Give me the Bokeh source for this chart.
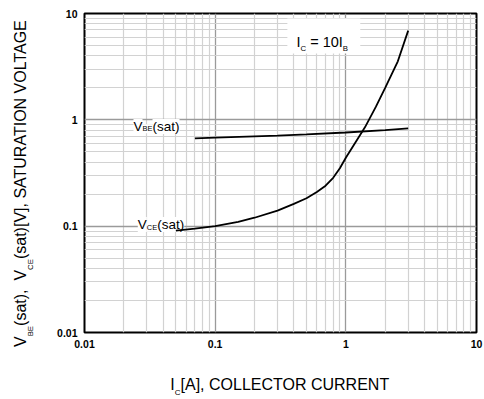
import math
from bokeh.plotting import figure
from bokeh.layouts import column, row
from bokeh.models import (Label, BoxAnnotation, FixedTicker,
                          CustomJSTickFormatter, Div)
from bokeh.embed import file_html
from bokeh.resources import INLINE

# ---- data ----
ic_vbe = [0.07, 0.1, 0.2, 0.3, 0.5, 1.0, 2.0, 3.0]
vbe_sat = [0.67, 0.68, 0.70, 0.71, 0.73, 0.76, 0.80, 0.83]

ic_vce = [0.05, 0.07, 0.1, 0.15, 0.2, 0.3, 0.4, 0.5, 0.6, 0.7, 0.8, 0.9,
          1.0, 1.2, 1.4, 1.7, 2.0, 2.5, 3.0]
vce_sat = [0.091, 0.095, 0.100, 0.110, 0.120, 0.140, 0.162, 0.183, 0.210,
           0.240, 0.285, 0.350, 0.440, 0.63, 0.85, 1.33, 2.0, 3.55, 6.9]

major_ticks = [0.01, 0.1, 1, 10]

FONT = "Liberation Sans"

p = figure(width=440, height=360, x_axis_type="log", y_axis_type="log",
           x_range=(0.01, 10), y_range=(0.01, 10),
           output_backend="svg", toolbar_location=None,
           min_border_left=40, min_border_right=8, min_border_top=13,
           min_border_bottom=28)
p.background_fill_color = "white"
p.border_fill_color = "white"
p.outline_line_color = "black"
p.outline_line_width = 2

minor = [m * d for d in major_ticks[:-1] for m in range(2, 10)]
for ax in (p.xaxis[0], p.yaxis[0]):
    ax.ticker = FixedTicker(ticks=major_ticks, minor_ticks=minor)
    ax.formatter = CustomJSTickFormatter(code="return tick.toString();")
    ax.axis_line_color = None
    ax.major_tick_line_color = None
    ax.minor_tick_line_color = None
    ax.major_tick_out = 0
    ax.major_tick_in = 0
    ax.minor_tick_out = 0
    ax.minor_tick_in = 0
    ax.major_label_text_font = FONT
    ax.major_label_text_font_style = "bold"
    ax.major_label_text_font_size = "10.5px"
    ax.major_label_text_color = "black"
    ax.major_label_standoff = 7

for g in (p.xgrid[0], p.ygrid[0]):
    g.ticker = FixedTicker(ticks=major_ticks, minor_ticks=minor)
    g.grid_line_color = "#9a9a9a"
    g.grid_line_width = 1.3
    g.minor_grid_line_color = "#d2d2d2"
    g.minor_grid_line_width = 1.2

W = {' ': 278, '(': 333, ')': 333, '[': 278, ']': 278, ',': 278, '=': 584,
     'A': 667, 'B': 667, 'C': 722, 'E': 667, 'G': 778, 'I': 278, 'L': 556,
     'N': 722, 'O': 778, 'R': 722, 'S': 667, 'T': 611, 'U': 722, 'V': 667,
     'a': 556, 's': 500, 't': 278}


def tw(s, fs):
    return sum(W.get(c, 556) for c in s) * fs / 1000.0


def rich(segs, dx, dy, size, sub_size, sub_shift, bg=None, level="annotation"):
    """Place text pieces (with subscripts) relative to the frame's
    bottom-left corner, offsets in pixels (dy positive = up)."""
    adv = 0.0
    for text, sub in segs:
        fs = sub_size if sub else size
        sh = sub_shift if sub else 0.0
        stripped = text.lstrip(" ")
        lead = tw(text[:len(text) - len(stripped)], fs)
        p.add_layout(Label(x=0.01, y=0.01, x_offset=dx + adv + lead,
                           y_offset=dy - sh,
                           text=stripped.rstrip(" "),
                           text_font=FONT, text_font_size=f"{fs}px",
                           text_color="black", text_baseline="alphabetic",
                           text_align="left", level=level,
                           background_fill_color=bg))
        adv += tw(text, fs)


# curve labels (under the curves, over the grid)
rich([("V", False), ("BE", True), ("(sat)", False)], 49, 206, 13.5, 7.5, 2.3,
     bg="white", level="underlay")
rich([("V", False), ("CE", True), ("(sat)", False)], 53.3, 108, 13.5, 7.5, 2.7,
     bg="white", level="underlay")

p.line(ic_vbe, vbe_sat, line_color="black", line_width=1.8)
p.line(ic_vce, vce_sat, line_color="black", line_width=1.8)

# white box behind the condition text
p.add_layout(BoxAnnotation(left=0.357, right=1.29, top=8.97, bottom=4.21,
                           fill_color="white", fill_alpha=1.0,
                           line_color=None))
rich([("I", False), ("C", True), (" = 10I", False), ("B", True)],
     212, 290.3, 14.5, 7.8, 6)

# ---- axis titles as HTML (outside the plot frame) ----
SUB = "font-size:{fs}px;position:relative;top:{sh}px;"
TXT = ("position:absolute;left:{l}px;top:{t}px;white-space:pre;"
       "font-family:'Liberation Sans';font-size:16px;line-height:16px;"
       "color:black;{extra}")

ytitle_html = (
    '<div style="position:relative;width:44px;height:360px;">'
    '<div style="' + TXT.format(l=13.0, t=347,
                                extra="transform-origin:0 0;"
                                      "transform:rotate(-90deg);") + '">'
    'V<span style="' + SUB.format(fs=7.8, sh=6.5) + '">BE</span>(sat),  '
    'V<span style="' + SUB.format(fs=7.8, sh=6.5) + '">CE</span>'
    '(sat)[V], SATURATION VOLTAGE</div></div>')

xtitle_html = (
    '<div style="position:relative;width:484px;height:39px;">'
    '<div style="' + TXT.format(l=170.3, t=16.5, extra="") + '">'
    'I<span style="' + SUB.format(fs=8, sh=5) + '">C</span>'
    '[A], COLLECTOR CURRENT</div></div>')

ydiv = Div(text=ytitle_html, width=44, height=360, margin=0,
           styles={"overflow": "visible"})
xdiv = Div(text=xtitle_html, width=484, height=39, margin=0,
           styles={"overflow": "visible"})

layout = column(row(ydiv, p, spacing=0), xdiv, spacing=0)

open("out.html", "w").write(file_html(layout, INLINE))
